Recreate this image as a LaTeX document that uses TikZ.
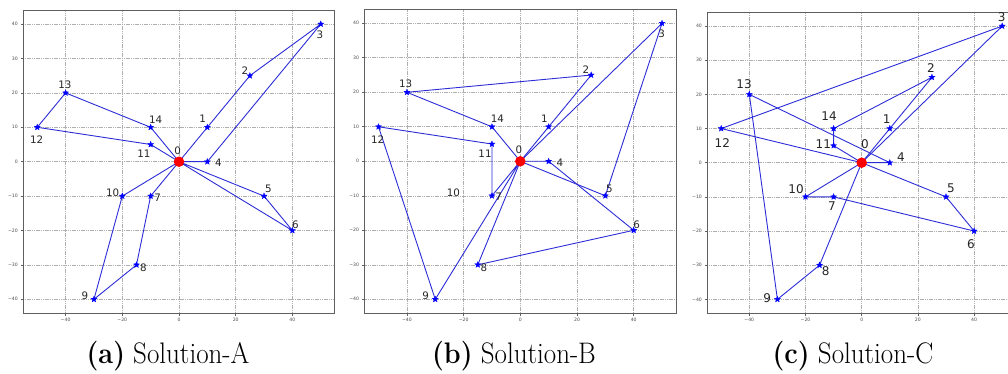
\documentclass[tikz,border=0pt]{standalone}
\usepackage{fontspec}
\usepackage{graphicx}
\usetikzlibrary{shapes.geometric}
\newfontfamily\dvfont{DejaVu Sans}
\definecolor{routeblue}{RGB}{45,45,215}
\definecolor{gridgray}{RGB}{175,175,175}
\definecolor{framegray}{RGB}{95,95,95}
\tikzset{
  gridline/.style={gridgray, line width=0.6pt, dash pattern=on 1.2pt off 0.6pt},
  axframe/.style={framegray, line width=0.9pt},
  tickmark/.style={framegray, line width=0.6pt},
  ticklabel/.style={font=\dvfont\fontsize{4.6}{5}\selectfont, text=black!70, inner sep=1pt},
  route/.style={routeblue, line width=0.9pt, line join=round},
  starmark/.style={star, star points=5, star point ratio=2.3, minimum size=6.5pt, inner sep=0pt, fill=blue, draw=blue, line width=0.2pt},
  depot/.style={circle, minimum size=10.5pt, inner sep=0pt, fill=red},
  ptlabel/.style={font=\dvfont\fontsize{10.3}{12}\selectfont, text=black!85, inner sep=0pt},
  ptlabelc/.style={font=\dvfont\fontsize{12}{14}\selectfont, text=black!85, inner sep=0pt},
  capt/.style={font=\fontsize{27}{30}\selectfont, inner sep=0pt, anchor=base}
}
\newcommand\myaxes{%
  \foreach \gx in {-40,-20,0,20,40} \draw[gridline] (\gx,-44) -- (\gx,44);
  \foreach \gy in {-40,-30,...,40} \draw[gridline] (-55,\gy) -- (55,\gy);
  \draw[axframe] (-55,-44) rectangle (55,44);
  \foreach \gx/\gl in {-40/−40,-20/−20,0/0,20/20,40/40}
    \draw[tickmark] (\gx,-44) -- ++(0,-2.5pt) node[below, ticklabel, yshift=-1pt] {\gl};
  \foreach \gy/\gl in {-40/−40,-30/−30,-20/−20,-10/−10,0/0,10/10,20/20,30/30,40/40}
    \draw[tickmark] (-55,\gy) -- ++(-2.5pt,0) node[left, ticklabel, xshift=-1.5pt] {\gl};
}
\newcommand\mypoints[1]{%
  \coordinate (#10) at (0,0);
  \coordinate (#11) at (10,10);
  \coordinate (#12) at (25,25);
  \coordinate (#13) at (50,40);
  \coordinate (#14) at (10,0);
  \coordinate (#15) at (30,-10);
  \coordinate (#16) at (40,-20);
  \coordinate (#17) at (-10,-10);
  \coordinate (#18) at (-15,-30);
  \coordinate (#19) at (-30,-40);
  \coordinate (#110) at (-20,-10);
  \coordinate (#111) at (-10,5);
  \coordinate (#112) at (-50,10);
  \coordinate (#113) at (-40,20);
  \coordinate (#114) at (-10,10);
}
\begin{document}
\begin{tikzpicture}[x=1pt,y=1pt]
\useasboundingbox (0,0) rectangle (1008,-374);
\fill[white] (0,0) rectangle (1008,-374);
\clip (0,0) rectangle (1008,-374);

% ---------------- Panel A ----------------
\begin{scope}[shift={(179,-161.7)}, x=2.835pt, y=3.44pt]
  \myaxes
  \mypoints{a}
  \draw[route] (a0) -- (a1) -- (a2) -- (a3) -- (a4) -- (a0);
  \draw[route] (a0) -- (a5) -- (a6) -- (a0);
  \draw[route] (a0) -- (a7) -- (a8) -- (a9) -- (a10) -- (a0);
  \draw[route] (a0) -- (a11) -- (a12) -- (a13) -- (a14) -- (a0);
  \foreach \i in {1,...,14} \node[starmark] (sa\i) at (a\i) {};
  \node[depot] (da) at (a0) {};
\end{scope}
\node[ptlabel] (la0) at (177.7,-150.7) {0};
\node[ptlabel] (la1) at (202.7,-119) {1};
\node[ptlabel] (la2) at (245,-70.7) {2};
\node[ptlabel] (la3) at (320,-34.3) {3};
\node[ptlabel] (la4) at (218.3,-162.7) {4};
\node[ptlabel] (la5) at (268.3,-189.3) {5};
\node[ptlabel] (la6) at (295.3,-224.7) {6};
\node[ptlabel] (la7) at (157.7,-197.3) {7};
\node[ptlabel] (la8) at (143.3,-267.7) {8};
\node[ptlabel] (la9) at (85,-295.7) {9};
\node[ptlabel] (la10) at (112.7,-192.7) {10};
\node[ptlabel] (la11) at (144,-153.3) {11};
\node[ptlabel] (la12) at (36.7,-140) {12};
\node[ptlabel] (la13) at (65,-84.7) {13};
\node[ptlabel] (la14) at (155.7,-119.3) {14};

% ---------------- Panel B ----------------
\begin{scope}[shift={(520.3,-161.3)}, x=2.835pt, y=3.45pt]
  \myaxes
  \mypoints{b}
  \draw[route] (b0) -- (b1) -- (b2) -- (b13) -- (b14) -- (b0);
  \draw[route] (b0) -- (b3) -- (b5) -- (b0);
  \draw[route] (b0) -- (b4) -- (b6) -- (b8) -- (b0);
  \draw[route] (b0) -- (b9) -- (b12) -- (b11) -- (b7) -- (b0);
  \foreach \i in {1,...,9,11,12,13,14} \node[starmark] (sb\i) at (b\i) {};
  \node[depot] (db) at (b0) {};
\end{scope}
\node[ptlabel] (lb0) at (519,-150) {0};
\node[ptlabel] (lb1) at (544.3,-118.3) {1};
\node[ptlabel] (lb2) at (586,-70) {2};
\node[ptlabel] (lb3) at (661.7,-33.3) {3};
\node[ptlabel] (lb4) at (560,-162.3) {4};
\node[ptlabel] (lb5) at (609.3,-189.3) {5};
\node[ptlabel] (lb6) at (636.7,-224.3) {6};
\node[ptlabel] (lb7) at (498.7,-196.7) {7};
\node[ptlabel] (lb8) at (484,-267.7) {8};
\node[ptlabel] (lb9) at (425.7,-295.7) {9};
\node[ptlabel] (lb10) at (453.3,-192.3) {10};
\node[ptlabel] (lb11) at (485,-153.3) {11};
\node[ptlabel] (lb12) at (377.7,-139.3) {12};
\node[ptlabel] (lb13) at (405.7,-84) {13};
\node[ptlabel] (lb14) at (497.3,-119) {14};

% ---------------- Panel C ----------------
\begin{scope}[shift={(861.7,-162.7)}, x=2.81pt, y=3.416pt]
  \myaxes
  \mypoints{c}
  \draw[route] (c0) -- (c1) -- (c2) -- (c14) -- (c11) -- (c0);
  \draw[route] (c0) -- (c3) -- (c12) -- (c0);
  \draw[route] (c0) -- (c4) -- (c13) -- (c9) -- (c8) -- (c0);
  \draw[route] (c0) -- (c10) -- (c7) -- (c6) -- (c5) -- (c0);
  \foreach \i in {1,...,14} \node[starmark] (sc\i) at (c\i) {};
  \node[depot] (dc) at (c0) {};
\end{scope}
\node[ptlabelc] (lc0) at (865,-144) {0};
\node[ptlabelc] (lc1) at (886.7,-119.3) {1};
\node[ptlabelc] (lc2) at (931,-67.7) {2};
\node[ptlabelc] (lc3) at (1001.7,-17.3) {3};
\node[ptlabelc] (lc4) at (901,-157.3) {4};
\node[ptlabelc] (lc5) at (951,-188.7) {5};
\node[ptlabelc] (lc6) at (971,-244) {6};
\node[ptlabelc] (lc7) at (832,-206) {7};
\node[ptlabelc] (lc8) at (825.7,-270.7) {8};
\node[ptlabelc] (lc9) at (767.3,-298.3) {9};
\node[ptlabelc] (lc10) at (796,-188.7) {10};
\node[ptlabelc] (lc11) at (823.3,-144) {11};
\node[ptlabelc] (lc12) at (722.3,-142.7) {12};
\node[ptlabelc] (lc13) at (744,-83.7) {13};
\node[ptlabelc] (lc14) at (829,-116) {14};

% ---------------- Captions ----------------
\node[capt] (capa) at (168,-363) {\scalebox{1}[1.1]{\textbf{(a)} Solution-A}};
\node[capt] (capb) at (514,-363) {\scalebox{1}[1.1]{\textbf{(b)} Solution-B}};
\node[capt] (capc) at (853,-363) {\scalebox{1}[1.1]{\textbf{(c)} Solution-C}};
\end{tikzpicture}
\end{document}
